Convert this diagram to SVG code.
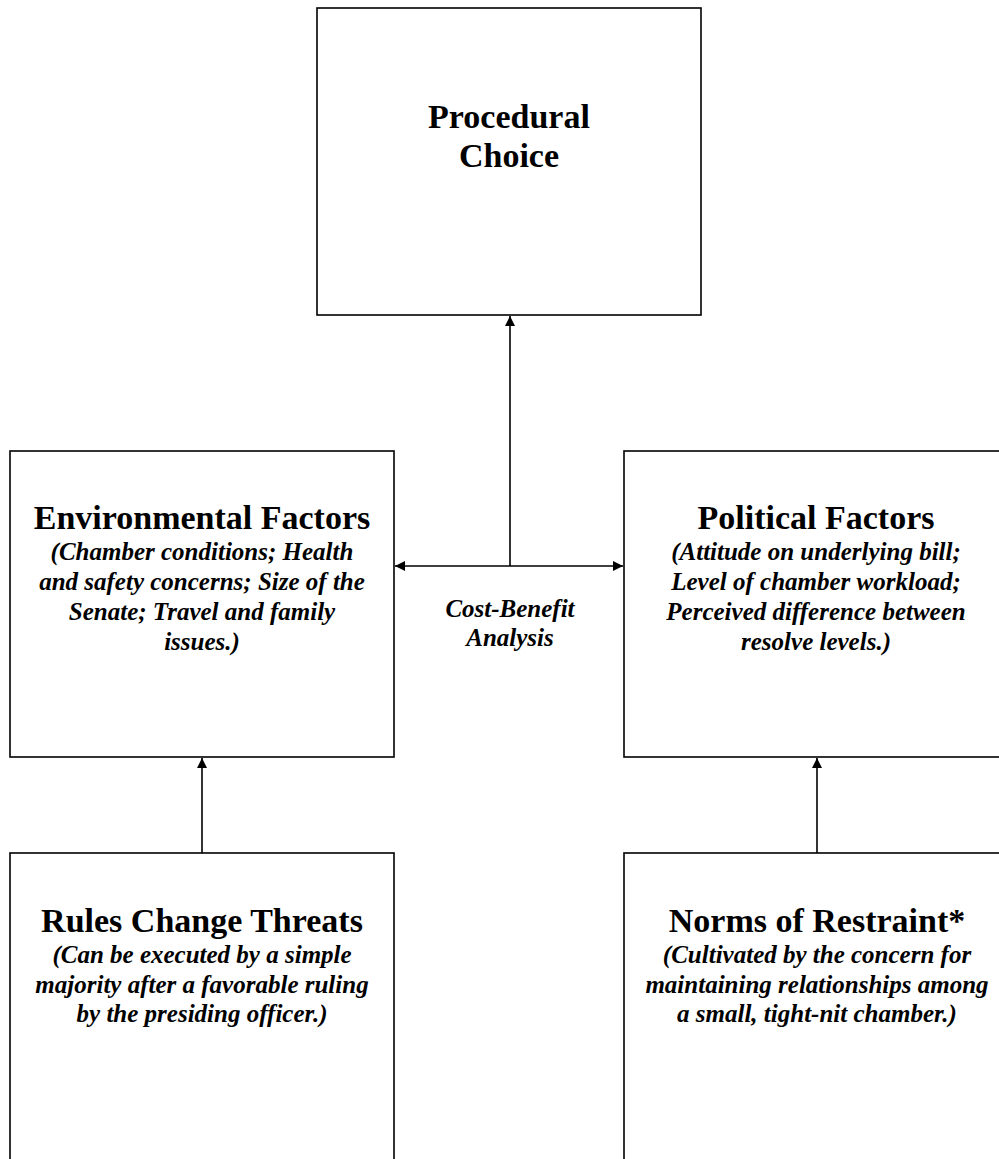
<svg xmlns="http://www.w3.org/2000/svg" width="999" height="1159" viewBox="0 0 999 1159">
<style>
.box{fill:#fff;stroke:#000;stroke-width:1.6}
.t{font-family:"Liberation Serif","Times New Roman",serif;font-weight:bold;font-size:34px;text-anchor:middle;fill:#000}
.s{font-family:"Liberation Serif","Times New Roman",serif;font-weight:bold;font-style:italic;font-size:25px;text-anchor:middle;fill:#000}
.c{stroke:#000;stroke-width:1.6;fill:none}
</style>
<defs>
<marker id="ah" viewBox="0 0 10 10" refX="10" refY="5" markerWidth="11" markerHeight="10" markerUnits="userSpaceOnUse" orient="auto">
<path d="M0,0 L10,5 L0,10 z" fill="#000"/>
</marker>
</defs>
<rect width="999" height="1159" fill="#fff"/>
<g id="procedural">
<rect class="box" x="317" y="8" width="384" height="307"/>
<text class="t" x="509" y="128">Procedural</text>
<text class="t" x="509" y="167">Choice</text>
</g>
<g id="environmental">
<rect class="box" x="10" y="451" width="384" height="306"/>
<text class="t" x="202" y="529">Environmental Factors</text>
<text class="s" x="202" y="560">(Chamber conditions; Health</text>
<text class="s" x="202" y="590">and safety concerns; Size of the</text>
<text class="s" x="202" y="620">Senate; Travel and family</text>
<text class="s" x="202" y="650">issues.)</text>
</g>
<g id="political">
<rect class="box" x="624" y="451" width="384" height="306"/>
<text class="t" x="816" y="529">Political Factors</text>
<text class="s" x="816" y="560">(Attitude on underlying bill;</text>
<text class="s" x="816" y="590">Level of chamber workload;</text>
<text class="s" x="816" y="620">Perceived difference between</text>
<text class="s" x="816" y="650">resolve levels.)</text>
</g>
<g id="rules">
<rect class="box" x="10" y="853" width="384" height="320"/>
<text class="t" x="202" y="932">Rules Change Threats</text>
<text class="s" x="202" y="963">(Can be executed by a simple</text>
<text class="s" x="202" y="993">majority after a favorable ruling</text>
<text class="s" x="202" y="1022">by the presiding officer.)</text>
</g>
<g id="norms">
<rect class="box" x="624" y="853" width="384" height="320"/>
<text class="t" x="817" y="932">Norms of Restraint*</text>
<text class="s" x="817" y="963">(Cultivated by the concern for</text>
<text class="s" x="817" y="993">maintaining relationships among</text>
<text class="s" x="817" y="1022">a small, tight-nit chamber.)</text>
</g>
<g id="connectors">
<line class="c" x1="510" y1="566" x2="510" y2="316" marker-end="url(#ah)"/>
<line class="c" x1="510" y1="566" x2="395" y2="566" marker-end="url(#ah)"/>
<line class="c" x1="510" y1="566" x2="623" y2="566" marker-end="url(#ah)"/>
<line class="c" x1="202" y1="853" x2="202" y2="758" marker-end="url(#ah)"/>
<line class="c" x1="817" y1="853" x2="817" y2="758" marker-end="url(#ah)"/>
<text class="s" x="510" y="617">Cost-Benefit</text>
<text class="s" x="510" y="646">Analysis</text>
</g>
</svg>
